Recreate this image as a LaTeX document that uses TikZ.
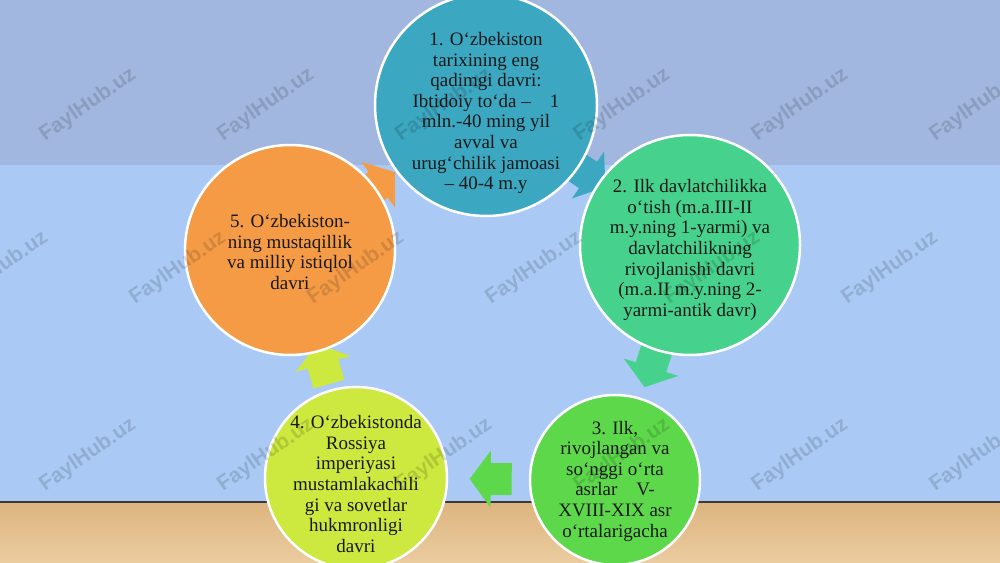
\documentclass[tikz,border=0pt]{standalone}
\usepackage{fontspec}
\setmainfont{Liberation Serif}
\newfontfamily\wmfont{Liberation Sans}
\usetikzlibrary{positioning}

\definecolor{wall}{HTML}{AACAF5}
\definecolor{band}{HTML}{A2B7DF}
\definecolor{floortop}{HTML}{DDB47F}
\definecolor{floorbot}{HTML}{EBCC9F}
\definecolor{floorline}{HTML}{3A3A3A}
\definecolor{c1}{HTML}{3CA7C1}
\definecolor{c2}{HTML}{46D28C}
\definecolor{c3}{HTML}{5DD84B}
\definecolor{c4}{HTML}{CDE83F}
\definecolor{c5}{HTML}{F59B46}

\tikzset{
  stage/.style={circle, draw=white, line width=2.5pt, minimum size=#1, inner sep=0pt},
  stagetext/.style={align=center, text=black!90, inner sep=0pt,
    font=\fontsize{19}{20.6}\selectfont},
  blockarrow/.pic={
    \fill[pic actions] (-21,-16) -- (0,-16) -- (0,-28.5) -- (21,0) -- (0,28.5)
      -- (0,16) -- (-21,16) -- cycle;
  },
  watermark/.style={rotate=35, text=black, text opacity=0.14,
    font=\wmfont\bfseries\fontsize{21}{21}\selectfont}
}

\begin{document}
\begin{tikzpicture}[x=1pt, y=1pt]
\useasboundingbox (0,0) rectangle (1000,562);
% background
\fill[wall] (0,0) rectangle (1000,562);
\fill[band] (0,397) rectangle (1000,562);
\shade[top color=floortop, bottom color=floorbot] (0,0) rectangle (1000,60);
\draw[floorline, line width=1.2pt] (0,60) -- (1000,60);

% centres of the periods
\coordinate (c1p) at (486,457);
\coordinate (c2p) at (690,317);
\coordinate (c3p) at (615,82);
\coordinate (c4p) at (356,84);
\coordinate (c5p) at (290,312);

% arrows of the cycle (behind the circles)
\path (c1p) -- pic[pos=0.5, sloped, allow upside down, fill=c1] {blockarrow} (c2p);
\path (c2p) -- pic[pos=0.52, sloped, allow upside down, fill=c2] {blockarrow} (c3p);
\path (c3p) -- pic[pos=0.48, sloped, allow upside down, fill=c3] {blockarrow} (c4p);
\path (c4p) -- pic[pos=0.5, sloped, allow upside down, fill=c4] {blockarrow} (c5p);
\path (c5p) -- pic[pos=0.45, sloped, allow upside down, fill=c5] {blockarrow} (c1p);

% periods
\node[stage=222pt, fill=c1] (p1) at (c1p) {};
\node[stage=220pt, fill=c2] (p2) at (c2p) {};
\node[stage=170pt, fill=c3] (p3) at (c3p) {};
\node[stage=182pt, fill=c4] (p4) at (c4p) {};
\node[stage=210pt, fill=c5] (p5) at (c5p) {};

\node[stagetext] (t1) at ([yshift=-8pt]p1.center) {1. O‘zbekiston\\tarixining eng\\qadimgi davri:\\Ibtidoiy to‘da –\quad 1\\mln.-40 ming yil\\avval va\\urug‘chilik jamoasi\\– 40-4 m.y};
\node[stagetext] (t2) at ([yshift=-5pt]p2.center) {2. Ilk davlatchilikka\\o‘tish (m.a.III-II\\m.y.ning 1-yarmi) va\\davlatchilikning\\rivojlanishi davri\\(m.a.II m.y.ning 2-\\yarmi-antik davr)};
\node[stagetext] (t3) at ([yshift=-1pt]p3.center) {3. Ilk,\\rivojlangan va\\so‘nggi o‘rta\\asrlar\quad V-\\XVIII-XIX asr\\o‘rtalarigacha};
\node[stagetext] (t4) at ([yshift=-6pt]p4.center) {4. O‘zbekistonda\\Rossiya\\imperiyasi\\mustamlakachili\\gi va sovetlar\\hukmronligi\\davri};
\node[stagetext] (t5) at ([yshift=-2pt]p5.center) {5. O‘zbekiston-\\ning mustaqillik\\va milliy istiqlol\\davri};

% watermarks
\foreach \x in {88,266,...,978} {
  \node[watermark] at (\x,457) {FaylHub.uz};
  \node[watermark] at (\x,107) {FaylHub.uz};
}
\foreach \x in {0,178,...,890}
  \node[watermark] at (\x,294) {FaylHub.uz};
\end{tikzpicture}
\end{document}
